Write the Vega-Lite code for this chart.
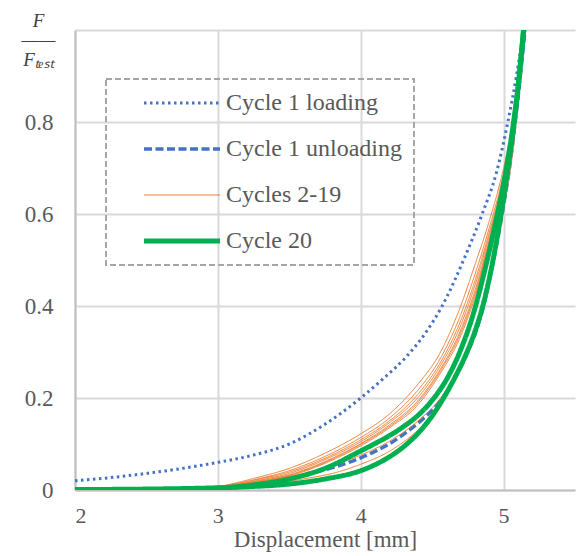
{
  "$schema": "https://vega.github.io/schema/vega-lite/v6.json",
  "width": 500,
  "height": 460,
  "autosize": {"type": "none"},
  "padding": {"left": 75, "top": 30, "right": 1, "bottom": 66},
  "background": "white",
  "config": {
    "view": {"stroke": null},
    "font": "Liberation Serif",
    "axis": {
      "labelFont": "Liberation Serif",
      "labelColor": "#595959",
      "labelFontSize": 23,
      "titleFont": "Liberation Serif",
      "titleColor": "#595959",
      "titleFontWeight": "normal",
      "titleFontSize": 24,
      "gridColor": "#D9D9D9",
      "gridWidth": 2,
      "domainColor": "#BFBFBF",
      "domainWidth": 2,
      "ticks": false
    },
    "legend": {
      "orient": "none", "legendX": 31, "legendY": 49,
      "symbolType": "M-5,0H5", "symbolSize": 231,
      "labelFont": "Liberation Serif", "labelFontSize": 24, "labelColor": "#595959",
      "labelLimit": 400,
      "rowPadding": 22, "padding": 12, "symbolOffset": 52, "labelOffset": 32,
      "strokeColor": "#A6A6A6"
    }
  },
  "datasets": {
    "curves": [
      {"series": "Cycle 1 loading", "curve": "L1", "x": 2.0, "y": 0.02},
      {"series": "Cycle 1 loading", "curve": "L1", "x": 2.25, "y": 0.027},
      {"series": "Cycle 1 loading", "curve": "L1", "x": 2.5, "y": 0.036},
      {"series": "Cycle 1 loading", "curve": "L1", "x": 2.75, "y": 0.047},
      {"series": "Cycle 1 loading", "curve": "L1", "x": 3.0, "y": 0.06},
      {"series": "Cycle 1 loading", "curve": "L1", "x": 3.25, "y": 0.076},
      {"series": "Cycle 1 loading", "curve": "L1", "x": 3.5, "y": 0.1},
      {"series": "Cycle 1 loading", "curve": "L1", "x": 3.75, "y": 0.143},
      {"series": "Cycle 1 loading", "curve": "L1", "x": 4.0, "y": 0.2},
      {"series": "Cycle 1 loading", "curve": "L1", "x": 4.15, "y": 0.24},
      {"series": "Cycle 1 loading", "curve": "L1", "x": 4.32, "y": 0.29},
      {"series": "Cycle 1 loading", "curve": "L1", "x": 4.45, "y": 0.34},
      {"series": "Cycle 1 loading", "curve": "L1", "x": 4.57, "y": 0.4},
      {"series": "Cycle 1 loading", "curve": "L1", "x": 4.72, "y": 0.5},
      {"series": "Cycle 1 loading", "curve": "L1", "x": 4.85, "y": 0.6},
      {"series": "Cycle 1 loading", "curve": "L1", "x": 4.95, "y": 0.69},
      {"series": "Cycle 1 loading", "curve": "L1", "x": 5.03, "y": 0.8},
      {"series": "Cycle 1 loading", "curve": "L1", "x": 5.09, "y": 0.9},
      {"series": "Cycle 1 loading", "curve": "L1", "x": 5.14, "y": 1.0},

      {"series": "Cycle 1 unloading", "curve": "U1", "x": 3.05, "y": 0.006},
      {"series": "Cycle 1 unloading", "curve": "U1", "x": 3.25, "y": 0.013},
      {"series": "Cycle 1 unloading", "curve": "U1", "x": 3.45, "y": 0.023},
      {"series": "Cycle 1 unloading", "curve": "U1", "x": 3.7, "y": 0.04},
      {"series": "Cycle 1 unloading", "curve": "U1", "x": 4.0, "y": 0.07},
      {"series": "Cycle 1 unloading", "curve": "U1", "x": 4.1, "y": 0.084},
      {"series": "Cycle 1 unloading", "curve": "U1", "x": 4.2, "y": 0.1},
      {"series": "Cycle 1 unloading", "curve": "U1", "x": 4.3, "y": 0.121},
      {"series": "Cycle 1 unloading", "curve": "U1", "x": 4.4, "y": 0.145},
      {"series": "Cycle 1 unloading", "curve": "U1", "x": 4.5, "y": 0.174},
      {"series": "Cycle 1 unloading", "curve": "U1", "x": 4.58, "y": 0.203},
      {"series": "Cycle 1 unloading", "curve": "U1", "x": 4.67, "y": 0.25},
      {"series": "Cycle 1 unloading", "curve": "U1", "x": 4.74, "y": 0.293},
      {"series": "Cycle 1 unloading", "curve": "U1", "x": 4.86, "y": 0.4},
      {"series": "Cycle 1 unloading", "curve": "U1", "x": 4.93, "y": 0.5},
      {"series": "Cycle 1 unloading", "curve": "U1", "x": 4.99, "y": 0.6},
      {"series": "Cycle 1 unloading", "curve": "U1", "x": 5.05, "y": 0.72},
      {"series": "Cycle 1 unloading", "curve": "U1", "x": 5.1, "y": 0.85},
      {"series": "Cycle 1 unloading", "curve": "U1", "x": 5.15, "y": 1.0},

      {"series": "Cycles 2-19", "curve": "OUA", "x": 3.2, "y": 0.012},
      {"series": "Cycles 2-19", "curve": "OUA", "x": 3.45, "y": 0.026},
      {"series": "Cycles 2-19", "curve": "OUA", "x": 3.7, "y": 0.044},
      {"series": "Cycles 2-19", "curve": "OUA", "x": 4.0, "y": 0.076},
      {"series": "Cycles 2-19", "curve": "OUA", "x": 4.2, "y": 0.106},
      {"series": "Cycles 2-19", "curve": "OUA", "x": 4.4, "y": 0.15},
      {"series": "Cycles 2-19", "curve": "OUA", "x": 4.55, "y": 0.196},
      {"series": "Cycles 2-19", "curve": "OUA", "x": 4.7, "y": 0.275},
      {"series": "Cycles 2-19", "curve": "OUA", "x": 4.8, "y": 0.355},
      {"series": "Cycles 2-19", "curve": "OUA", "x": 4.9, "y": 0.465},
      {"series": "Cycles 2-19", "curve": "OUA", "x": 5.0, "y": 0.625},
      {"series": "Cycles 2-19", "curve": "OUA", "x": 5.07, "y": 0.77},
      {"series": "Cycles 2-19", "curve": "OUA", "x": 5.14, "y": 1.0},

      {"series": "Cycles 2-19", "curve": "OUB", "x": 3.3, "y": 0.01},
      {"series": "Cycles 2-19", "curve": "OUB", "x": 3.6, "y": 0.024},
      {"series": "Cycles 2-19", "curve": "OUB", "x": 3.85, "y": 0.04},
      {"series": "Cycles 2-19", "curve": "OUB", "x": 4.0, "y": 0.056},
      {"series": "Cycles 2-19", "curve": "OUB", "x": 4.2, "y": 0.084},
      {"series": "Cycles 2-19", "curve": "OUB", "x": 4.4, "y": 0.13},
      {"series": "Cycles 2-19", "curve": "OUB", "x": 4.55, "y": 0.18},
      {"series": "Cycles 2-19", "curve": "OUB", "x": 4.7, "y": 0.265},
      {"series": "Cycles 2-19", "curve": "OUB", "x": 4.8, "y": 0.34},
      {"series": "Cycles 2-19", "curve": "OUB", "x": 4.9, "y": 0.45},
      {"series": "Cycles 2-19", "curve": "OUB", "x": 5.0, "y": 0.61},
      {"series": "Cycles 2-19", "curve": "OUB", "x": 5.07, "y": 0.75},
      {"series": "Cycles 2-19", "curve": "OUB", "x": 5.14, "y": 1.0},

      {"series": "Cycles 2-19", "curve": "OL1", "x": 3.05, "y": 0.01},
      {"series": "Cycles 2-19", "curve": "OL1", "x": 3.25, "y": 0.025},
      {"series": "Cycles 2-19", "curve": "OL1", "x": 3.5, "y": 0.047},
      {"series": "Cycles 2-19", "curve": "OL1", "x": 3.75, "y": 0.08},
      {"series": "Cycles 2-19", "curve": "OL1", "x": 4.0, "y": 0.122},
      {"series": "Cycles 2-19", "curve": "OL1", "x": 4.2, "y": 0.165},
      {"series": "Cycles 2-19", "curve": "OL1", "x": 4.4, "y": 0.23},
      {"series": "Cycles 2-19", "curve": "OL1", "x": 4.55, "y": 0.295},
      {"series": "Cycles 2-19", "curve": "OL1", "x": 4.7, "y": 0.4},
      {"series": "Cycles 2-19", "curve": "OL1", "x": 4.8, "y": 0.49},
      {"series": "Cycles 2-19", "curve": "OL1", "x": 4.9, "y": 0.585},
      {"series": "Cycles 2-19", "curve": "OL1", "x": 5.0, "y": 0.7},
      {"series": "Cycles 2-19", "curve": "OL1", "x": 5.07, "y": 0.81},
      {"series": "Cycles 2-19", "curve": "OL1", "x": 5.14, "y": 1.0},

      {"series": "Cycles 2-19", "curve": "OL2", "x": 3.05, "y": 0.009},
      {"series": "Cycles 2-19", "curve": "OL2", "x": 3.25, "y": 0.022},
      {"series": "Cycles 2-19", "curve": "OL2", "x": 3.5, "y": 0.042},
      {"series": "Cycles 2-19", "curve": "OL2", "x": 3.75, "y": 0.073},
      {"series": "Cycles 2-19", "curve": "OL2", "x": 4.0, "y": 0.114},
      {"series": "Cycles 2-19", "curve": "OL2", "x": 4.2, "y": 0.156},
      {"series": "Cycles 2-19", "curve": "OL2", "x": 4.4, "y": 0.217},
      {"series": "Cycles 2-19", "curve": "OL2", "x": 4.55, "y": 0.282},
      {"series": "Cycles 2-19", "curve": "OL2", "x": 4.7, "y": 0.381},
      {"series": "Cycles 2-19", "curve": "OL2", "x": 4.8, "y": 0.469},
      {"series": "Cycles 2-19", "curve": "OL2", "x": 4.9, "y": 0.57},
      {"series": "Cycles 2-19", "curve": "OL2", "x": 5.0, "y": 0.688},
      {"series": "Cycles 2-19", "curve": "OL2", "x": 5.07, "y": 0.804},
      {"series": "Cycles 2-19", "curve": "OL2", "x": 5.14, "y": 1.0},

      {"series": "Cycles 2-19", "curve": "OL3", "x": 3.05, "y": 0.008},
      {"series": "Cycles 2-19", "curve": "OL3", "x": 3.25, "y": 0.021},
      {"series": "Cycles 2-19", "curve": "OL3", "x": 3.5, "y": 0.039},
      {"series": "Cycles 2-19", "curve": "OL3", "x": 3.75, "y": 0.069},
      {"series": "Cycles 2-19", "curve": "OL3", "x": 4.0, "y": 0.109},
      {"series": "Cycles 2-19", "curve": "OL3", "x": 4.2, "y": 0.15},
      {"series": "Cycles 2-19", "curve": "OL3", "x": 4.4, "y": 0.208},
      {"series": "Cycles 2-19", "curve": "OL3", "x": 4.55, "y": 0.273},
      {"series": "Cycles 2-19", "curve": "OL3", "x": 4.7, "y": 0.368},
      {"series": "Cycles 2-19", "curve": "OL3", "x": 4.8, "y": 0.455},
      {"series": "Cycles 2-19", "curve": "OL3", "x": 4.9, "y": 0.56},
      {"series": "Cycles 2-19", "curve": "OL3", "x": 5.0, "y": 0.68},
      {"series": "Cycles 2-19", "curve": "OL3", "x": 5.07, "y": 0.8},
      {"series": "Cycles 2-19", "curve": "OL3", "x": 5.14, "y": 1.0},

      {"series": "Cycles 2-19", "curve": "OL4", "x": 3.05, "y": 0.007},
      {"series": "Cycles 2-19", "curve": "OL4", "x": 3.25, "y": 0.019},
      {"series": "Cycles 2-19", "curve": "OL4", "x": 3.5, "y": 0.036},
      {"series": "Cycles 2-19", "curve": "OL4", "x": 3.75, "y": 0.066},
      {"series": "Cycles 2-19", "curve": "OL4", "x": 4.0, "y": 0.105},
      {"series": "Cycles 2-19", "curve": "OL4", "x": 4.2, "y": 0.146},
      {"series": "Cycles 2-19", "curve": "OL4", "x": 4.4, "y": 0.201},
      {"series": "Cycles 2-19", "curve": "OL4", "x": 4.55, "y": 0.266},
      {"series": "Cycles 2-19", "curve": "OL4", "x": 4.7, "y": 0.358},
      {"series": "Cycles 2-19", "curve": "OL4", "x": 4.8, "y": 0.445},
      {"series": "Cycles 2-19", "curve": "OL4", "x": 4.9, "y": 0.553},
      {"series": "Cycles 2-19", "curve": "OL4", "x": 5.0, "y": 0.674},
      {"series": "Cycles 2-19", "curve": "OL4", "x": 5.07, "y": 0.797},
      {"series": "Cycles 2-19", "curve": "OL4", "x": 5.14, "y": 1.0},

      {"series": "Cycles 2-19", "curve": "OL5", "x": 3.05, "y": 0.007},
      {"series": "Cycles 2-19", "curve": "OL5", "x": 3.25, "y": 0.018},
      {"series": "Cycles 2-19", "curve": "OL5", "x": 3.5, "y": 0.033},
      {"series": "Cycles 2-19", "curve": "OL5", "x": 3.75, "y": 0.062},
      {"series": "Cycles 2-19", "curve": "OL5", "x": 4.0, "y": 0.101},
      {"series": "Cycles 2-19", "curve": "OL5", "x": 4.2, "y": 0.141},
      {"series": "Cycles 2-19", "curve": "OL5", "x": 4.4, "y": 0.194},
      {"series": "Cycles 2-19", "curve": "OL5", "x": 4.55, "y": 0.259},
      {"series": "Cycles 2-19", "curve": "OL5", "x": 4.7, "y": 0.348},
      {"series": "Cycles 2-19", "curve": "OL5", "x": 4.8, "y": 0.434},
      {"series": "Cycles 2-19", "curve": "OL5", "x": 4.9, "y": 0.545},
      {"series": "Cycles 2-19", "curve": "OL5", "x": 5.0, "y": 0.668},
      {"series": "Cycles 2-19", "curve": "OL5", "x": 5.07, "y": 0.794},
      {"series": "Cycles 2-19", "curve": "OL5", "x": 5.14, "y": 1.0},

      {"series": "Cycles 2-19", "curve": "OL6", "x": 3.05, "y": 0.006},
      {"series": "Cycles 2-19", "curve": "OL6", "x": 3.25, "y": 0.017},
      {"series": "Cycles 2-19", "curve": "OL6", "x": 3.5, "y": 0.032},
      {"series": "Cycles 2-19", "curve": "OL6", "x": 3.75, "y": 0.06},
      {"series": "Cycles 2-19", "curve": "OL6", "x": 4.0, "y": 0.099},
      {"series": "Cycles 2-19", "curve": "OL6", "x": 4.2, "y": 0.138},
      {"series": "Cycles 2-19", "curve": "OL6", "x": 4.4, "y": 0.19},
      {"series": "Cycles 2-19", "curve": "OL6", "x": 4.55, "y": 0.255},
      {"series": "Cycles 2-19", "curve": "OL6", "x": 4.7, "y": 0.342},
      {"series": "Cycles 2-19", "curve": "OL6", "x": 4.8, "y": 0.427},
      {"series": "Cycles 2-19", "curve": "OL6", "x": 4.9, "y": 0.54},
      {"series": "Cycles 2-19", "curve": "OL6", "x": 5.0, "y": 0.664},
      {"series": "Cycles 2-19", "curve": "OL6", "x": 5.07, "y": 0.792},
      {"series": "Cycles 2-19", "curve": "OL6", "x": 5.14, "y": 1.0},

      {"series": "Cycles 2-19", "curve": "OL7", "x": 3.05, "y": 0.006},
      {"series": "Cycles 2-19", "curve": "OL7", "x": 3.25, "y": 0.016},
      {"series": "Cycles 2-19", "curve": "OL7", "x": 3.5, "y": 0.03},
      {"series": "Cycles 2-19", "curve": "OL7", "x": 3.75, "y": 0.058},
      {"series": "Cycles 2-19", "curve": "OL7", "x": 4.0, "y": 0.096},
      {"series": "Cycles 2-19", "curve": "OL7", "x": 4.2, "y": 0.135},
      {"series": "Cycles 2-19", "curve": "OL7", "x": 4.4, "y": 0.185},
      {"series": "Cycles 2-19", "curve": "OL7", "x": 4.55, "y": 0.25},
      {"series": "Cycles 2-19", "curve": "OL7", "x": 4.7, "y": 0.335},
      {"series": "Cycles 2-19", "curve": "OL7", "x": 4.8, "y": 0.42},
      {"series": "Cycles 2-19", "curve": "OL7", "x": 4.9, "y": 0.535},
      {"series": "Cycles 2-19", "curve": "OL7", "x": 5.0, "y": 0.66},
      {"series": "Cycles 2-19", "curve": "OL7", "x": 5.07, "y": 0.79},
      {"series": "Cycles 2-19", "curve": "OL7", "x": 5.14, "y": 1.0},

      {"series": "Cycle 20", "curve": "G1", "x": 3.0, "y": 0.004},
      {"series": "Cycle 20", "curve": "G1", "x": 3.25, "y": 0.011},
      {"series": "Cycle 20", "curve": "G1", "x": 3.5, "y": 0.024},
      {"series": "Cycle 20", "curve": "G1", "x": 3.75, "y": 0.047},
      {"series": "Cycle 20", "curve": "G1", "x": 4.0, "y": 0.085},
      {"series": "Cycle 20", "curve": "G1", "x": 4.1, "y": 0.101},
      {"series": "Cycle 20", "curve": "G1", "x": 4.2, "y": 0.118},
      {"series": "Cycle 20", "curve": "G1", "x": 4.3, "y": 0.138},
      {"series": "Cycle 20", "curve": "G1", "x": 4.4, "y": 0.162},
      {"series": "Cycle 20", "curve": "G1", "x": 4.5, "y": 0.195},
      {"series": "Cycle 20", "curve": "G1", "x": 4.6, "y": 0.24},
      {"series": "Cycle 20", "curve": "G1", "x": 4.7, "y": 0.305},
      {"series": "Cycle 20", "curve": "G1", "x": 4.79, "y": 0.385},
      {"series": "Cycle 20", "curve": "G1", "x": 4.87, "y": 0.48},
      {"series": "Cycle 20", "curve": "G1", "x": 4.95, "y": 0.59},
      {"series": "Cycle 20", "curve": "G1", "x": 5.02, "y": 0.7},
      {"series": "Cycle 20", "curve": "G1", "x": 5.07, "y": 0.8},
      {"series": "Cycle 20", "curve": "G1", "x": 5.11, "y": 0.9},
      {"series": "Cycle 20", "curve": "G1", "x": 5.14, "y": 1.0},

      {"series": "Cycle 20", "curve": "G2", "x": 2.0, "y": 0.001},
      {"series": "Cycle 20", "curve": "G2", "x": 2.5, "y": 0.002},
      {"series": "Cycle 20", "curve": "G2", "x": 2.9, "y": 0.004},
      {"series": "Cycle 20", "curve": "G2", "x": 3.2, "y": 0.007},
      {"series": "Cycle 20", "curve": "G2", "x": 3.5, "y": 0.013},
      {"series": "Cycle 20", "curve": "G2", "x": 3.75, "y": 0.024},
      {"series": "Cycle 20", "curve": "G2", "x": 4.0, "y": 0.042},
      {"series": "Cycle 20", "curve": "G2", "x": 4.1, "y": 0.055},
      {"series": "Cycle 20", "curve": "G2", "x": 4.2, "y": 0.072},
      {"series": "Cycle 20", "curve": "G2", "x": 4.3, "y": 0.094},
      {"series": "Cycle 20", "curve": "G2", "x": 4.4, "y": 0.123},
      {"series": "Cycle 20", "curve": "G2", "x": 4.5, "y": 0.161},
      {"series": "Cycle 20", "curve": "G2", "x": 4.58, "y": 0.2},
      {"series": "Cycle 20", "curve": "G2", "x": 4.66, "y": 0.245},
      {"series": "Cycle 20", "curve": "G2", "x": 4.73, "y": 0.29},
      {"series": "Cycle 20", "curve": "G2", "x": 4.8, "y": 0.345},
      {"series": "Cycle 20", "curve": "G2", "x": 4.85, "y": 0.395},
      {"series": "Cycle 20", "curve": "G2", "x": 4.92, "y": 0.49},
      {"series": "Cycle 20", "curve": "G2", "x": 4.98, "y": 0.595},
      {"series": "Cycle 20", "curve": "G2", "x": 5.04, "y": 0.72},
      {"series": "Cycle 20", "curve": "G2", "x": 5.09, "y": 0.84},
      {"series": "Cycle 20", "curve": "G2", "x": 5.14, "y": 1.0}
    ]
  },
  "data": {"name": "curves"},
  "mark": {"type": "line", "interpolate": "monotone", "clip": true},
  "encoding": {
    "x": {
      "field": "x",
      "type": "quantitative",
      "scale": {"domain": [2, 5.5], "nice": false, "zero": false},
      "axis": {
        "values": [2, 3, 4, 5],
        "format": "d",
        "title": "Displacement [mm]",
        "labelFontSize": 22,
        "labelPadding": 15,
        "titleFontSize": 23,
        "titlePadding": 2
      }
    },
    "y": {
      "field": "y",
      "type": "quantitative",
      "scale": {"domain": [0, 1], "nice": false},
      "axis": {
        "values": [0, 0.2, 0.4, 0.6, 0.8, 1],
        "labelExpr": "datum.value >= 1 ? '' : format(datum.value, '~g')",
        "labelPadding": 22,
        "title": ["F", "——", "Fₜₑₛₜ"],
        "titleAngle": 0,
        "titleAlign": "center",
        "titleBaseline": "top",
        "titleX": -37,
        "titleY": -19,
        "titleFontSize": 19,
        "titleLineHeight": 19.5,
        "titleFontStyle": "italic",
        "titleColor": "#404040"
      }
    },
    "detail": {"field": "curve"},
    "color": {
      "field": "series",
      "type": "nominal",
      "title": null,
      "scale": {
        "domain": ["Cycle 1 loading", "Cycle 1 unloading", "Cycles 2-19", "Cycle 20"],
        "range": ["#4472C4", "#4472C4", "#ED7D31", "#00B050"]
      },
      "legend": {
        "title": null,
        "encode": {
          "legend": {"update": {"strokeDash": {"value": [6, 3]}, "strokeWidth": {"value": 2}}}
        }
      }
    },
    "strokeDash": {
      "field": "series",
      "type": "nominal",
      "title": null,
      "scale": {
        "type": "ordinal",
        "domain": ["Cycle 1 loading", "Cycle 1 unloading", "Cycles 2-19", "Cycle 20"],
        "range": [[2.5, 3.5], [8, 3.5], [1, 0], [1, 0]]
      },
      "legend": {"title": null}
    },
    "strokeWidth": {
      "field": "series",
      "type": "nominal",
      "title": null,
      "scale": {
        "type": "ordinal",
        "domain": ["Cycle 1 loading", "Cycle 1 unloading", "Cycles 2-19", "Cycle 20"],
        "range": [3, 3.5, 1, 5]
      },
      "legend": {"title": null}
    }
  }
}
